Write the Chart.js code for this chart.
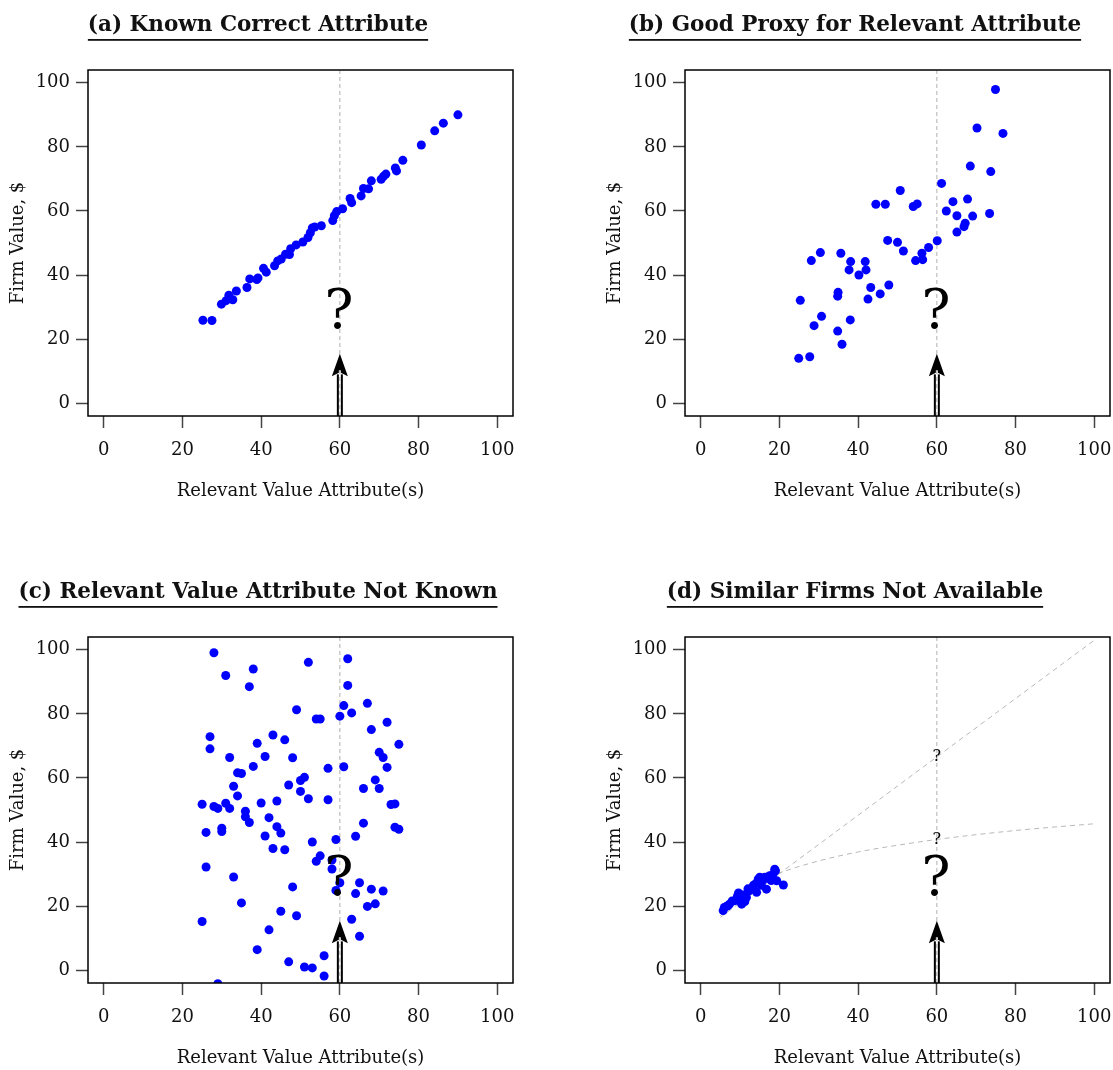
<!DOCTYPE html>
<html><head><meta charset="utf-8">
<script src="https://cdn.jsdelivr.net/npm/chart.js@4/dist/chart.umd.min.js"></script>
<style>
body{margin:0;background:#fff;width:1113px;height:1070px;overflow:hidden;position:relative}
canvas{position:absolute;display:block}
</style></head><body>
<canvas id="ca" width="597" height="535" style="left:0;top:0"></canvas>
<canvas id="cb" width="597" height="535" style="left:597px;top:0"></canvas>
<canvas id="cc" width="597" height="503" style="left:0;top:567px"></canvas>
<canvas id="cd" width="597" height="503" style="left:597px;top:567px"></canvas>
<script>
// ---- tick labels ----
const xTicks = [0,20,40,60,80,100];
const yTicks = [0,20,40,60,80,100];

// ---- (a) Known Correct Attribute ----
const aX = [25.2,27.5,29.9,31.1,31.8,32.8,33.7,36.4,37.1,39.2,38.9,40.6,41.3,43.4,44.2,45.1,46.2,47.2,47.5,48.9,50.6,51.9,52.5,53.0,53.6,55.3,58.2,58.6,59.2,60.7,62.6,63.0,65.4,66.0,67.3,68.0,70.5,71.1,71.7,74.1,74.4,76.0,80.7,84.1,86.3,90.0];
const aY = [25.9,25.8,30.9,32.0,33.7,32.3,35.0,36.1,38.8,39.1,38.6,42.1,40.9,42.9,44.4,45.0,46.5,46.4,48.2,49.4,50.3,51.7,53.2,54.7,55.0,55.4,57.0,58.5,59.8,60.7,63.9,62.6,64.7,67.0,66.9,69.4,69.9,70.8,71.5,73.4,72.5,75.8,80.6,85.0,87.4,90.0];

// ---- (b) Good Proxy for Relevant Attribute ----
const bX = [74.9,70.2,76.8,68.5,73.7,61.2,50.7,44.5,46.9,54.0,55.0,64.1,67.8,62.4,65.1,69.1,73.4,67.2,66.9,65.1,60.1,47.5,50.0,51.5,57.9,56.2,54.6,56.4,30.4,35.6,28.1,38.1,41.8,37.7,42.0,40.2,43.2,47.8,45.6,42.5,34.9,34.8,25.3,30.7,28.8,38.0,34.8,35.9,24.9,27.7];
const bY = [97.9,85.9,84.2,74.0,72.3,68.6,66.4,62.1,62.1,61.4,62.2,62.9,63.7,60.0,58.5,58.4,59.2,56.2,55.1,53.4,50.7,50.8,50.2,47.5,48.6,46.8,44.5,44.8,47.0,46.8,44.5,44.2,44.2,41.6,41.6,40.0,36.1,36.9,34.1,32.5,34.6,33.4,32.1,27.1,24.2,26.0,22.5,18.4,14.0,14.5];

// ---- (c) Relevant Value Attribute Not Known ----
const cX = [28,62,52,38,31,37,62,67,61,49,63,60,54,55,72,68,27,43,46,75,39,27,70,32,41,48,71,38,61,57,72,34,35,51,50,69,33,47,66,70,50,34,52,57,44,40,25,73,74,28,31,29,32,36,36,42,37,66,44,74,75,30,30,26,45,41,64,59,53,43,46,55,54,58,26,58,33,60,65,48,68,71,59,64,35,69,67,45,49,63,25,42,65,39,56,47,51,53,56,29];
const cY = [99.1,97.2,96.1,94.0,92.0,88.5,88.9,83.3,82.6,81.3,80.3,79.3,78.4,78.4,77.4,75.1,72.9,73.4,71.9,70.5,70.8,69.1,68.0,66.4,66.7,66.3,66.4,63.6,63.5,63.0,63.3,61.6,61.4,60.2,59.2,59.4,57.4,57.8,56.7,56.7,55.8,54.4,53.5,53.2,52.8,52.2,51.8,51.7,51.9,51.1,52.1,50.5,50.5,49.6,47.9,47.6,46.1,45.9,44.8,44.6,44.0,44.3,43.3,43.0,42.8,41.9,41.8,40.8,40.0,38.0,37.6,35.7,34.0,34.4,32.2,31.6,29.1,27.3,27.3,26.0,25.3,24.7,24.9,23.9,21.0,20.7,19.9,18.4,17.0,15.9,15.2,12.6,10.6,6.4,4.5,2.6,1.0,0.7,-1.8,-4.2];

// ---- (d) Similar Firms Not Available ----
const dX = [5.7,6.0,6.5,6.9,7.3,8.0,8.7,9.3,9.6,9.9,10.2,10.4,10.8,11.2,11.6,12.0,12.3,12.9,13.4,14.0,14.2,14.6,15.0,15.4,15.9,16.3,16.7,17.0,17.5,17.9,18.4,18.8,19.0,19.3,21.0];
const dY = [18.6,19.6,19.9,20.1,20.6,21.6,21.7,23.0,24.1,23.7,22.4,20.6,23.5,21.4,22.7,25.4,24.8,25.3,26.5,27.0,24.3,28.4,29.0,26.5,28.2,29.0,25.3,28.8,29.5,28.0,30.0,31.5,31.0,27.9,26.6];
const linX = [5, 100];
const linY = [16.5, 103];
const curveX = [5,10,15,20,30,40,50,60,70,80,90,100];
const curveY = [17.0,23.6,27.5,30.3,34.1,36.9,39.0,40.8,42.3,43.6,44.7,45.7];

// ---- annotation values (data units) ----
const markX = 60;
const arrowTip = 15.4, arrowBase = 9.0;
const bigQ = 23.4;
const smallQd = [65.2, 39.5];

const FONT = '"DejaVu Serif", serif';
Chart.defaults.font.family = FONT;
Chart.defaults.color = '#111';

const pts = (xs, ys) => xs.map((x, i) => ({x, y: ys[i]}));

const decor = {
  id: 'decor',
  beforeDatasetsDraw(chart, args, o) {
    const {ctx, chartArea: ca, scales: {x}} = chart;
    const px = x.getPixelForValue(o.markX);
    ctx.save();
    ctx.strokeStyle = '#b0b0b0'; ctx.lineWidth = 1; ctx.setLineDash([4, 3]);
    ctx.beginPath(); ctx.moveTo(px, ca.top); ctx.lineTo(px, ca.bottom); ctx.stroke();
    ctx.restore();
  },
  afterDatasetsDraw(chart, args, o) {
    const {ctx, chartArea: ca, scales: {x, y}} = chart;
    const px = x.getPixelForValue(o.markX);
    const tip = y.getPixelForValue(o.arrowTip), base = y.getPixelForValue(o.arrowBase);
    ctx.save();
    ctx.strokeStyle = '#000'; ctx.lineWidth = 6;
    ctx.beginPath(); ctx.moveTo(px, ca.bottom); ctx.lineTo(px, base); ctx.stroke();
    ctx.fillStyle = '#000';
    ctx.beginPath(); ctx.moveTo(px, tip); ctx.lineTo(px + 8, base + 2); ctx.lineTo(px, base - 2); ctx.lineTo(px - 8, base + 2); ctx.closePath(); ctx.fill();
    ctx.strokeStyle = '#fff'; ctx.lineWidth = 2;
    ctx.beginPath(); ctx.moveTo(px, ca.bottom); ctx.lineTo(px, base - 4); ctx.stroke();
    ctx.strokeStyle = '#a8a8a8'; ctx.lineWidth = 1; ctx.setLineDash([4, 3]);
    ctx.beginPath(); ctx.moveTo(px, ca.bottom); ctx.lineTo(px, base - 4); ctx.stroke();
    ctx.setLineDash([]);
    ctx.fillStyle = '#000'; ctx.textAlign = 'center'; ctx.textBaseline = 'alphabetic';
    ctx.font = '54px ' + FONT;
    ctx.fillText('?', px - 1, y.getPixelForValue(o.bigQ));
    ctx.font = '16px ' + FONT;
    (o.smallQ || []).forEach(v => ctx.fillText('?', px, y.getPixelForValue(v)));
    ctx.strokeStyle = '#000'; ctx.lineWidth = 1.5;
    ctx.strokeRect(ca.left, ca.top, ca.width, ca.height);
    ctx.restore();
  },
  afterDraw(chart, args, o) {
    const {ctx} = chart;
    ctx.save();
    ctx.font = 'bold 21.5px ' + FONT;
    ctx.fillStyle = '#111'; ctx.textAlign = 'center'; ctx.textBaseline = 'alphabetic';
    ctx.fillText(o.title, 258, 31);
    const w = ctx.measureText(o.title).width;
    ctx.fillRect(258 - w / 2, 39, w, 1.8);
    ctx.restore();
  }
};

function axis(titleText, isX) {
  return {
    type: 'linear', min: -4, max: 104,
    afterBuildTicks: s => { s.ticks = (isX ? xTicks : yTicks).map(v => ({value: v})); },
    afterFit: s => { if (isX) s.height = 86; else s.width = 80; },
    grid: {drawOnChartArea: false, drawTicks: true, tickLength: 12, tickColor: '#444', tickWidth: 1.5},
    border: {display: false},
    ticks: {font: {size: 18, family: FONT}, color: '#111', padding: isX ? 12 : 6, maxRotation: 0, autoSkip: false},
    title: {display: true, text: titleText, font: {size: 18, family: FONT}, color: '#111', padding: 0}
  };
}

function panel(id, title, datasets, smallQ) {
  const cv = document.getElementById(id);
  const W = cv.width, H = cv.height;
  new Chart(cv, {
    type: 'scatter',
    data: {datasets},
    options: {
      responsive: false, animation: false,
      layout: {padding: {left: 8, top: 70, right: W - 513, bottom: H - 502}},
      scales: {x: axis('Relevant Value Attribute(s)', true), y: axis('Firm Value, $', false)},
      plugins: {legend: {display: false}, tooltip: {enabled: false},
        decor: {title, markX, arrowTip, arrowBase, bigQ, smallQ}}
    },
    plugins: [decor]
  });
}

const dot = (xs, ys) => ({data: pts(xs, ys), pointRadius: 4.5, pointBackgroundColor: '#0000ff', pointBorderWidth: 0, clip: 0});
const dashLine = (xs, ys) => ({data: pts(xs, ys), showLine: true, borderColor: '#b8b8b8', borderWidth: 1, borderDash: [5, 4], pointRadius: 0, cubicInterpolationMode: 'monotone', clip: 0});

panel('ca', '(a) Known Correct Attribute', [dot(aX, aY)]);
panel('cb', '(b) Good Proxy for Relevant Attribute', [dot(bX, bY)]);
panel('cc', '(c) Relevant Value Attribute Not Known', [dot(cX, cY)]);
panel('cd', '(d) Similar Firms Not Available', [dot(dX, dY), dashLine(linX, linY), dashLine(curveX, curveY)], smallQd);
</script>
</body></html>
